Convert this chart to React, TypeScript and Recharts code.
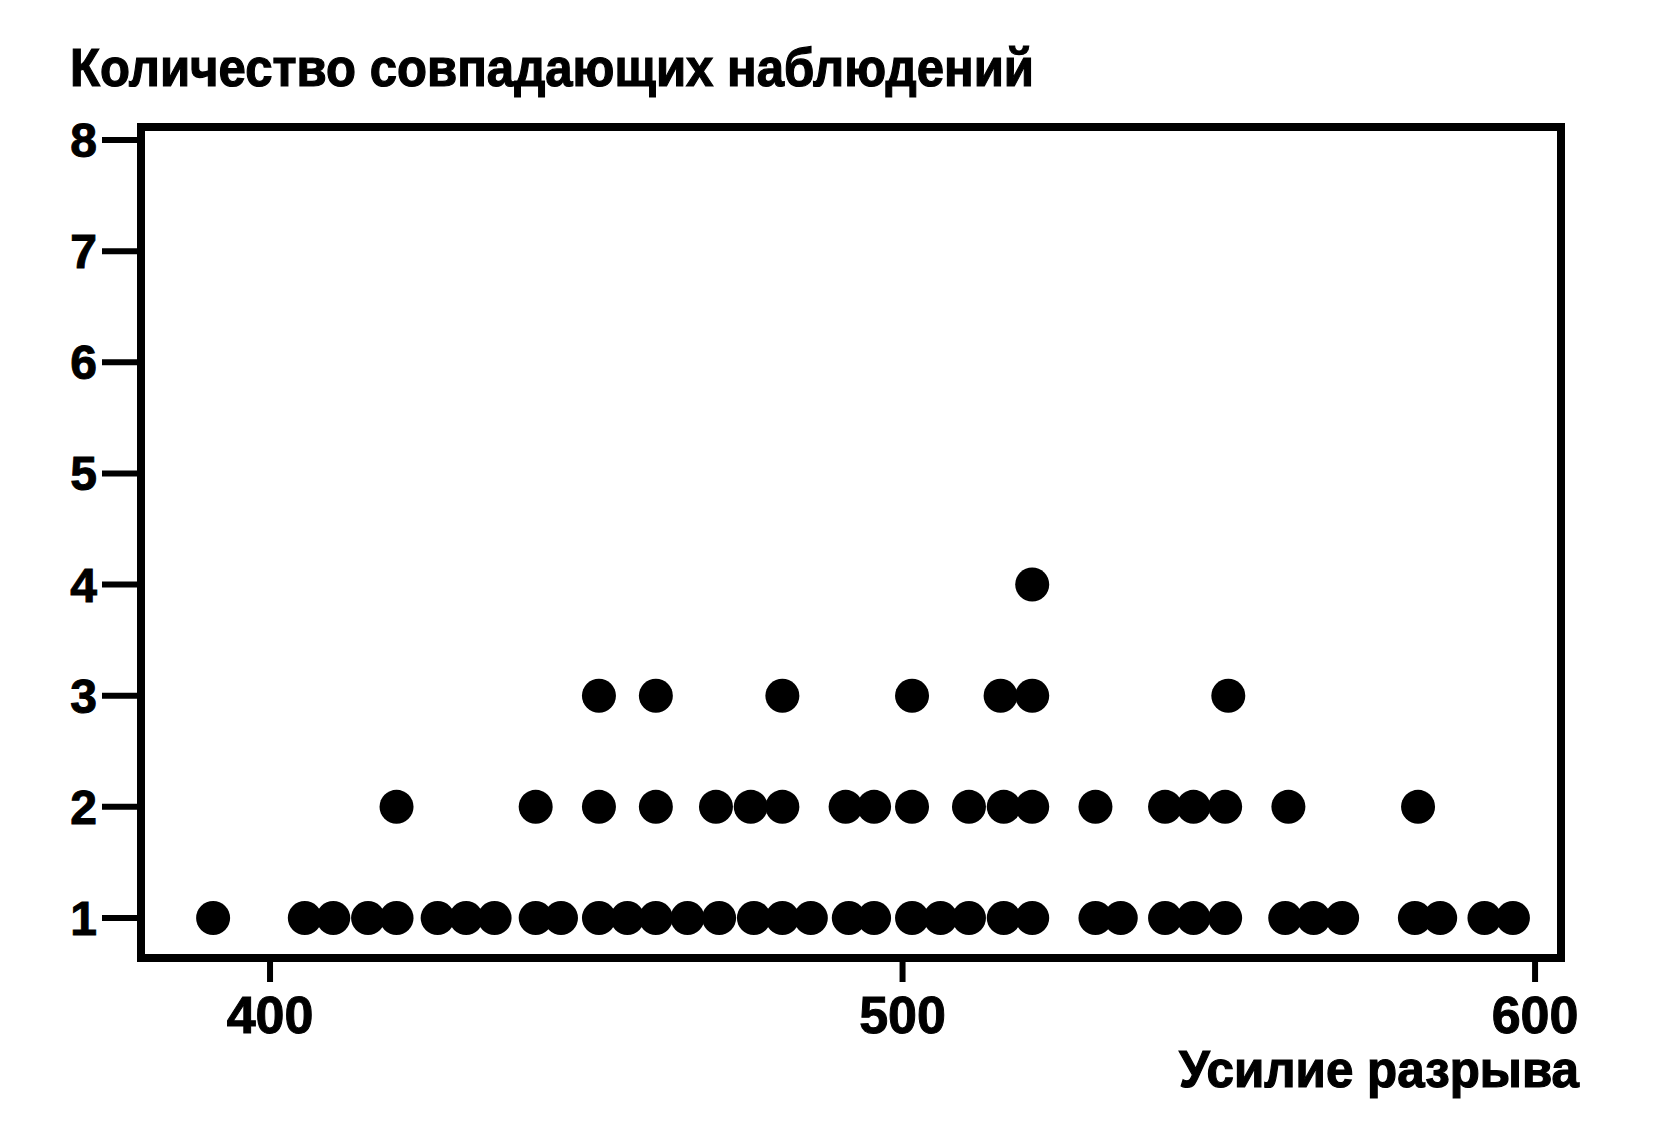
import { Label, ReferenceArea, Scatter, ScatterChart, XAxis, YAxis } from "recharts";

// tensile strength values, grouped by how many observations coincide at that value
const oneMatch = [
  391, 405.5, 410, 415.5, 420, 426.5, 431, 435.5, 442, 446, 452, 456.5, 461, 466,
  471, 476.5, 481, 485.5, 491.5, 495.5, 501.5, 506, 510.5, 516, 520.5, 530.5,
  534.5, 541.5, 546, 551, 560.5, 565, 569.5, 581, 585, 592, 596.5,
];
const twoMatches = [
  420, 442, 452, 461, 470.5, 476, 481, 491, 495.5, 501.5, 510.5, 516, 520.5,
  530.5, 541.5, 546, 551, 561, 581.5,
];
const threeMatches = [452, 461, 481, 501.5, 515.5, 520.5, 551.5];
const fourMatches = [520.5];

const xTicks = [400, 500, 600];
const yTicks = [1, 2, 3, 4, 5, 6, 7, 8];

const X_DOMAIN: [number, number] = [379.6, 604.1];
const Y_DOMAIN: [number, number] = [0.64, 8.117];

const FONT = "'Liberation Sans', Arial, sans-serif";

const levels = [oneMatch, twoMatches, threeMatches, fourMatches];
const points = levels.flatMap((xs, i) => xs.map((x) => ({ x, y: i + 1 })));

const Dot = (props: any) => <circle cx={props.cx} cy={props.cy} r={17} fill="#000" />;

const XTitle = (props: any) => {
  const vb = props.viewBox || { x: 141, y: 958, width: 1420 };
  return (
    <text
      x={vb.x + vb.width + 18}
      y={vb.y + 129}
      textAnchor="end"
      fontFamily={FONT}
      fontWeight={700}
      fontSize={52}
      fill="#000"
      stroke="#000"
      strokeWidth={1.2}
      textLength={400}
      lengthAdjust="spacingAndGlyphs"
    >
      Усилие разрыва
    </text>
  );
};

const YTitle = (props: any) => {
  const vb = props.viewBox || { x: 0, y: 127 };
  return (
    <text
      x={vb.x + 70}
      y={vb.y - 41}
      fontFamily={FONT}
      fontWeight={700}
      fontSize={54}
      fill="#000"
      stroke="#000"
      strokeWidth={1.2}
      textLength={964}
      lengthAdjust="spacingAndGlyphs"
    >
      Количество совпадающих наблюдений
    </text>
  );
};

export default function App() {
  return (
    <div style={{ position: "absolute", left: 0, top: 0, width: 1654, height: 1137, background: "#fff" }}>
      <ScatterChart width={1654} height={1137} margin={{ top: 127, right: 93, bottom: 0, left: 0 }}>
        <XAxis
          type="number"
          dataKey="x"
          domain={X_DOMAIN}
          ticks={xTicks}
          interval={0}
          allowDataOverflow
          height={179}
          axisLine={false}
          tickLine={{ stroke: "#000", strokeWidth: 6 }}
          tickSize={24}
          tickMargin={14}
          tick={{ fill: "#000", stroke: "#000", strokeWidth: 1, fontSize: 52, fontWeight: 700, fontFamily: FONT }}
        >
          <Label content={XTitle} />
        </XAxis>
        <YAxis
          type="number"
          dataKey="y"
          domain={Y_DOMAIN}
          ticks={yTicks}
          interval={0}
          allowDataOverflow
          width={141}
          axisLine={false}
          tickLine={{ stroke: "#000", strokeWidth: 6 }}
          tickSize={39}
          tickMargin={5}
          tick={{ fill: "#000", stroke: "#000", strokeWidth: 1, fontSize: 48, fontWeight: 700, fontFamily: FONT }}
        >
          <Label content={YTitle} />
        </YAxis>
        <ReferenceArea
          x1={X_DOMAIN[0]}
          x2={X_DOMAIN[1]}
          y1={Y_DOMAIN[0]}
          y2={Y_DOMAIN[1]}
          fill="none"
          stroke="#000"
          strokeWidth={8}
          ifOverflow="visible"
        />
        <Scatter data={points} fill="#000" shape={Dot} isAnimationActive={false} />
      </ScatterChart>
    </div>
  );
}
